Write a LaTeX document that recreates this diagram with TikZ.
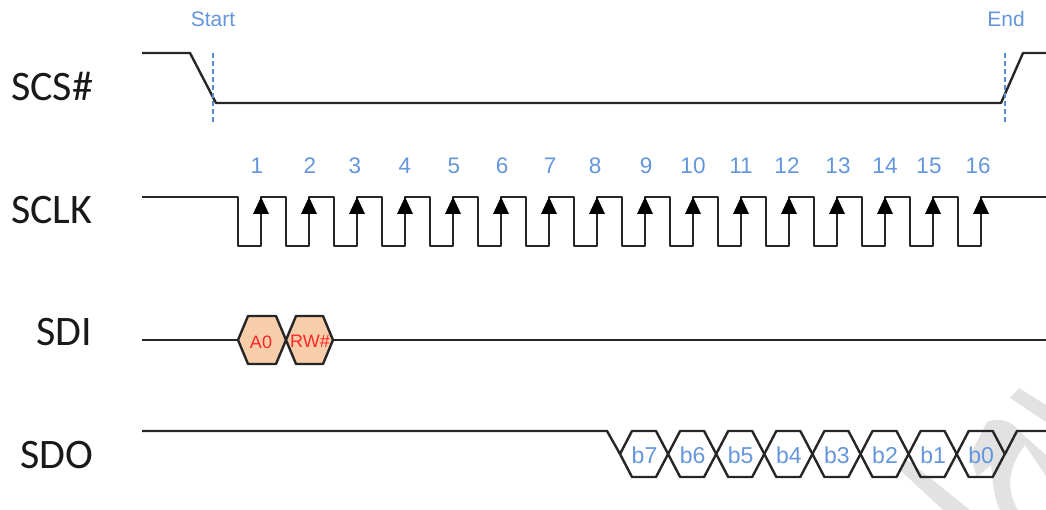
\documentclass[tikz,border=0pt]{standalone}
\usepackage{fontspec}
\setmainfont{Liberation Sans}
\newfontfamily\calib{Carlito}
\definecolor{lblblue}{RGB}{100,150,220}
\definecolor{dashblue}{RGB}{85,140,205}
\definecolor{hexfill}{RGB}{248,205,170}
\definecolor{wm}{RGB}{226,226,226}
\tikzset{
  sig/.style={draw=black!85,line width=2.4pt,line join=round},
  sigfill/.style={sig,fill=hexfill},
  sname/.style={font=\calib\fontsize{42}{42}\selectfont,text=black!90,inner sep=0pt},
  num/.style={font=\fontsize{22.5}{22}\selectfont,text=lblblue,inner sep=0pt},
  bit/.style={font=\fontsize{23}{23}\selectfont,text=lblblue,inner sep=0pt},
  edge label/.style={font=\fontsize{21}{21}\selectfont,text=lblblue,inner sep=0pt},
  red label/.style={font=\fontsize{18}{18}\selectfont,text=red!85!white,inner sep=0pt},
  guide/.style={draw=dashblue,line width=1.6pt,dash pattern=on 5pt off 3pt},
  clk arrow/.style={fill=black}
}
\begin{document}
\begin{tikzpicture}[x=1pt,y=-1pt]
\useasboundingbox (0,0) rectangle (1046,510);
% watermark
\fill[wm] (1010,398) -- (1019,388) -- (1046,405) -- (1046,422) -- cycle;
\fill[wm] (905,458) -- (970,510) -- (943,510) -- (900,470) -- cycle;
\fill[wm] (987,422) .. controls (995,418) and (1010,418) .. (1020,432)
  -- (1046,455) -- (1046,476) -- (1025,445)
  .. controls (1012,462) and (1003,485) .. (1018,510)
  -- (1000,510) .. controls (993,495) and (993,480) .. (991,465)
  -- (977,477) -- (970,455) -- cycle;
% signal names
\node[sname,anchor=west] (nscs) at (11,86) {SCS\#};
\node[sname,anchor=west] (nsclk) at (11,210) {SCLK};
\node[sname,anchor=west] (nsdi) at (36,332) {SDI};
\node[sname,anchor=west] (nsdo) at (20,455) {SDO};
% SCS
\draw[sig] (142,53) -- (190,53) -- (216,103) -- (1001,103) -- (1023,53) -- (1046,53);
\draw[guide] (213,53) -- (213,123);
\draw[guide] (1005,53) -- (1005,123);
\node[edge label] (lstart) at (213,19) {Start};
\node[edge label] (lend) at (1006,19) {End};
% SCLK
\draw[sig] (142,197) -- (238,197)
  \foreach \k in {0,...,15} { -- ({238+48*\k},246) -- ({261+48*\k},246) -- ({261+48*\k},197) -- ({286+48*\k},197) }
  ;
\draw[sig] (981,197) -- (1046,197);
\foreach \k in {0,...,15} {
  \fill[clk arrow] ({261+48*\k},197) -- ({253+48*\k},214) -- ({269+48*\k},214) -- cycle;
}
\foreach \n/\xx in {1/257,2/310,3/355,4/405,5/454,6/502,7/550,8/595,9/646,10/693,11/741,12/787,13/838,14/885,15/929,16/978} {
  \node[num,anchor=base] (n\n) at (\xx,174) {\n};
}
% SDI
\draw[sig] (142,340) -- (238,340);
\draw[sig] (333,340) -- (1046,340);
\draw[sigfill] (238,340) -- (248,316) -- (276,316) -- (286,340) -- (276,364) -- (248,364) -- cycle;
\draw[sigfill] (286,340) -- (296,316) -- (323,316) -- (333,340) -- (323,364) -- (296,364) -- cycle;
\node[red label] (a0) at (261,342) {A0};
\node[red label] (rw) at (310,341) {RW\#};
% SDO
\draw[sig] (142,431) -- (607,431) -- (620,454);
\draw[sig] (1005,454) -- (1017,431) -- (1046,431);
\foreach \k/\lbl in {0/b7,1/b6,2/b5,3/b4,4/b3,5/b2,6/b1,7/b0} {
  \draw[sig] ({620+48.1*\k},454) -- ({632+48.1*\k},431) -- ({656+48.1*\k},431) -- ({668.1+48.1*\k},454) -- ({656+48.1*\k},477) -- ({632+48.1*\k},477) -- cycle;
  \node[bit] (d\k) at ({644.5+48.1*\k},455) {\lbl};
}
\end{tikzpicture}
\end{document}
